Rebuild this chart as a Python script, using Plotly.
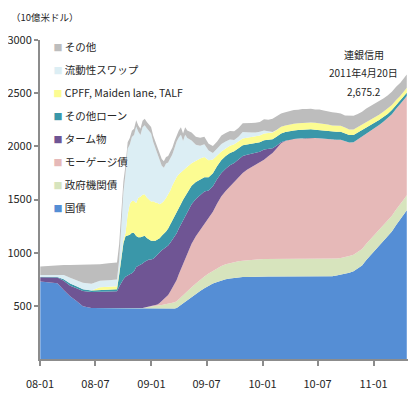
import plotly.graph_objects as go

dates = [
    "2008-01-02", "2008-01-30", "2008-02-27", "2008-03-19", "2008-04-09", "2008-04-30", "2008-05-21",
    "2008-06-18", "2008-07-16", "2008-08-13", "2008-09-10", "2008-09-17", "2008-09-24", "2008-10-01",
    "2008-10-08", "2008-10-15", "2008-10-22", "2008-10-29", "2008-11-05", "2008-11-12", "2008-11-19",
    "2008-11-26", "2008-12-03", "2008-12-10", "2008-12-17", "2008-12-24", "2008-12-31",
    "2009-01-07", "2009-01-14", "2009-01-21", "2009-01-28", "2009-02-04", "2009-02-11", "2009-02-18",
    "2009-02-25", "2009-03-04", "2009-03-11", "2009-03-18", "2009-03-25", "2009-04-01", "2009-04-08",
    "2009-04-15", "2009-04-22", "2009-04-29", "2009-05-13", "2009-05-27", "2009-06-10", "2009-06-24",
    "2009-07-08", "2009-07-22", "2009-08-05", "2009-08-19", "2009-09-02", "2009-09-16", "2009-09-30",
    "2009-10-14", "2009-10-28", "2009-11-11", "2009-11-25", "2009-12-09", "2009-12-23",
    "2010-01-06", "2010-01-20", "2010-02-03", "2010-02-17", "2010-03-03", "2010-03-17", "2010-03-31",
    "2010-04-14", "2010-04-28", "2010-05-12", "2010-05-26", "2010-06-09", "2010-06-23", "2010-07-07",
    "2010-07-21", "2010-08-04", "2010-08-18", "2010-09-01", "2010-09-15", "2010-09-29", "2010-10-13",
    "2010-10-27", "2010-11-10", "2010-11-24", "2010-12-08", "2010-12-22",
    "2011-01-05", "2011-01-19", "2011-02-02", "2011-02-16", "2011-03-02", "2011-03-16", "2011-03-30",
    "2011-04-13", "2011-04-20",
]

# 国債
treasuries = [
    728, 722, 712, 650, 590, 545, 495, 480, 479, 479, 479, 479, 479, 479, 479, 478, 478, 477, 476, 476,
    476, 476, 476, 476, 476, 476, 476,
    476, 476, 476, 476, 476, 476, 476, 476, 476, 476, 476, 480, 495, 510, 525, 540, 555, 580, 610, 640,
    665, 690, 710, 725, 740, 750, 757, 763, 767, 770, 772, 774, 775, 776,
    776, 776, 776, 776, 776, 776, 776, 776, 776, 776, 776, 776, 776, 776, 776, 776, 778, 785, 792, 800,
    812, 825, 850, 880, 930, 975,
    1015, 1060, 1105, 1150, 1200, 1260, 1310, 1370, 1400,
]
# 政府機関債
agency = [
    0, 0, 0, 0, 0, 0, 0, 0, 0, 0, 0, 0, 0, 0, 0, 0, 0, 0, 0, 0, 0, 0, 3, 8, 12, 15, 20,
    22, 25, 27, 30, 32, 35, 38, 42, 48, 52, 58, 62, 67, 72, 77, 82, 88, 95, 100, 105, 110, 115, 120,
    128, 135, 140, 145, 150, 153, 155, 158, 160, 162, 163,
    164, 165, 166, 167, 168, 168, 168, 167, 167, 166, 166, 165, 165, 164, 163, 162, 161, 160, 159, 158,
    157, 156, 155, 154, 153, 152,
    151, 150, 149, 148, 147, 145, 143, 141, 140,
]
# モーゲージ債
mbs = [
    0, 0, 0, 0, 0, 0, 0, 0, 0, 0, 0, 0, 0, 0, 0, 0, 0, 0, 0, 0, 0, 0, 0, 0, 0, 0, 0,
    0, 5, 10, 20, 35, 50, 65, 85, 110, 140, 170, 200, 235, 265, 295, 325, 350, 410, 445, 470, 490,
    520, 555, 610, 655, 690, 720, 745, 790, 825, 850, 870, 890, 910,
    935, 965, 995, 1040, 1085, 1105, 1120, 1127, 1131, 1135, 1138, 1140, 1138, 1135, 1132, 1128, 1122,
    1118, 1112, 1092, 1068, 1058, 1060, 1055, 1040, 1022,
    1005, 990, 978, 965, 955, 948, 942, 936, 934,
]
# ターム物
term = [
    40, 45, 55, 85, 100, 120, 145, 150, 152, 155, 158, 200, 240, 270, 295, 310, 320, 330, 350, 390,
    400, 410, 420, 430, 440, 445, 440,
    445, 455, 470, 480, 480, 475, 470, 465, 460, 455, 450, 440, 430, 420, 410, 400, 390, 370, 350, 330,
    310, 260, 240, 230, 220, 210, 200, 185, 170, 160, 140, 125, 110, 100,
    95, 70, 45, 25, 10, 3, 0, 0, 0, 0, 0, 0, 0, 0, 0, 0, 0, 0, 0, 0, 0, 0, 0, 0, 0, 0,
    0, 0, 0, 0, 0, 0, 0, 0, 0,
]
# その他ローン
other_loans = [
    3, 3, 5, 15, 20, 18, 15, 15, 15, 15, 18, 110, 230, 340, 380, 370, 370, 380, 360, 290, 270, 260,
    255, 245, 210, 185, 175,
    170, 150, 140, 130, 135, 140, 150, 160, 170, 180, 185, 190, 190, 190, 190, 185, 185, 175, 160, 145,
    135, 125, 122, 122, 122, 120, 115, 110, 105, 100, 98, 95, 92, 90,
    88, 86, 85, 84, 82, 82, 80, 80, 80, 80, 79, 79, 78, 78, 78, 77, 76, 75, 74, 72, 70, 68, 65, 62, 58, 55,
    52, 48, 45, 42, 40, 36, 33, 31, 30,
]
# CPFF, Maiden lane, TALF
cpff = [
    0, 0, 0, 0, 0, 0, 0, 0, 29, 30, 30, 30, 30, 30, 30, 200, 290, 300, 300, 310, 370, 380, 390, 390,
    380, 375, 370,
    370, 360, 345, 320, 310, 310, 315, 315, 320, 330, 335, 340, 320, 300, 280, 260, 240, 210, 200, 195,
    190, 160, 130, 100, 80, 70, 68, 66, 65, 64, 63, 62, 62, 62,
    62, 62, 62, 62, 62, 62, 62, 62, 62, 63, 63, 64, 64, 64, 63, 62, 60, 58, 56, 54, 52, 51, 50, 50, 49, 49,
    48, 48, 48, 48, 47, 47, 47, 47, 46,
]
# 流動性スワップ
swaps = [
    20, 22, 24, 40, 55, 60, 62, 62, 62, 62, 62, 110, 280, 450, 560, 620, 560, 600, 620, 720, 620, 580,
    636, 650, 652, 654, 640,
    557, 509, 462, 404, 350, 312, 324, 305, 302, 293, 311, 333, 345, 353, 273, 316, 270, 215, 150, 120,
    120, 90, 60, 60, 70, 65, 60, 40, 40, 60, 55, 45, 40, 35,
    30, 15, 5, 2, 0, 0, 0, 0, 0, 1, 1, 1, 1, 1, 0, 0, 0, 0, 0, 0, 0, 0, 0, 0, 0, 0,
    0, 0, 0, 0, 0, 0, 0, 0, 0,
]
# その他
other = [
    80, 85, 88, 95, 118, 142, 165, 180, 155, 160, 160, 150, 130, 100, 80, 60, 60, 60, 60, 60, 60, 60,
    60, 60, 60, 60, 60,
    60, 60, 60, 60, 62, 62, 62, 62, 64, 64, 65, 65, 68, 70, 70, 72, 72, 75, 75, 75, 70, 65, 65, 70, 80,
    80, 80, 82, 82, 84, 86, 88, 90, 92,
    105, 110, 125, 125, 125, 125, 128, 130, 128, 130, 127, 128, 124, 128, 125, 122, 123, 120, 115, 115,
    130, 130, 125, 125, 125, 125,
    125, 125, 125, 125, 124, 124, 124, 124, 125.2,
]

series_names = ["国債", "政府機関債", "モーゲージ債", "ターム物", "その他ローン",
                "CPFF, Maiden lane, TALF", "流動性スワップ", "その他"]
series_values = [treasuries, agency, mbs, term, other_loans, cpff, swaps, other]
series_colors = ["#558ED5", "#D7E4BD", "#E6B9B8", "#6F5594", "#3A97A9",
                 "#FCFC92", "#DCEEF4", "#BDBDBD"]

x_tick_dates = ["2008-01-01", "2008-07-01", "2009-01-01", "2009-07-01",
                "2010-01-01", "2010-07-01", "2011-01-01"]
x_tick_labels = ["08-01", "08-07", "09-01", "09-07", "10-01", "10-07", "11-01"]
y_tick_vals = [500, 1000, 1500, 2000, 2500, 3000]

FONT = "Noto Sans CJK JP"
AXIS = "#8C8C8C"

fig = go.Figure()
for name, vals, col in zip(series_names, series_values, series_colors):
    fig.add_trace(go.Scatter(
        x=dates, y=vals, stackgroup="one", mode="lines",
        line=dict(width=0, color=col), fillcolor=col,
        name=name, showlegend=False, hoverinfo="skip",
    ))

# legend-only entries with small coloured squares (top entry = top layer)
for name, col in zip(series_names[::-1], series_colors[::-1]):
    fig.add_trace(go.Scatter(
        x=[None], y=[None], mode="markers",
        marker=dict(color="rgba(0,0,0,0)", size=1),
        name=f'<span style="color:{col};font-size:9px">■</span> {name}',
        legendgroup=name, showlegend=True,
    ))

# page body has an 8px default margin, so the figure is 8px smaller
fig.update_layout(
    width=408, height=387, autosize=False,
    margin=dict(l=32, r=8, t=32, b=36, autoexpand=False),
    paper_bgcolor="white", plot_bgcolor="white",
    font=dict(family=FONT, size=11, color="#262626"),
    showlegend=True,
    legend=dict(
        x=-0.072, xanchor="left", y=1.025, yanchor="top",
        bgcolor="rgba(0,0,0,0)", borderwidth=0,
        traceorder="grouped", tracegroupgap=4,
        font=dict(family=FONT, size=10.5, color="#262626"),
    ),
    xaxis=dict(
        type="date", range=["2008-01-01", "2011-04-24"],
        tickmode="array", tickvals=x_tick_dates, ticktext=x_tick_labels,
        showline=True, linecolor=AXIS, linewidth=2,
        ticks="outside", ticklen=5, tickcolor=AXIS, tickwidth=1.5,
        ticklabelstandoff=9,
        showgrid=False, zeroline=False,
        tickfont=dict(family=FONT, size=11, color="#262626"),
    ),
    yaxis=dict(
        range=[0, 3000], tickmode="array", tickvals=y_tick_vals,
        showline=True, linecolor=AXIS, linewidth=2,
        ticks="outside", ticklen=4, tickcolor=AXIS, tickwidth=1.5,
        showgrid=False, zeroline=False,
        tickfont=dict(family=FONT, size=11, color="#262626"),
    ),
    annotations=[
        dict(text="（10億米ドル）", xref="paper", yref="paper", x=-0.085, y=1.072,
             xanchor="left", yanchor="middle", showarrow=False,
             font=dict(family=FONT, size=9.5, color="#262626")),
        dict(text="連銀信用", xref="paper", yref="paper", x=0.88, y=0.953,
             xanchor="center", yanchor="middle", showarrow=False,
             font=dict(family=FONT, size=10, color="#262626")),
        dict(text="2011年4月20日", xref="paper", yref="paper", x=0.88, y=0.8966,
             xanchor="center", yanchor="middle", showarrow=False,
             font=dict(family=FONT, size=10, color="#262626")),
        dict(text="2,675.2", xref="paper", yref="paper", x=0.88, y=0.8401,
             xanchor="center", yanchor="middle", showarrow=False,
             font=dict(family=FONT, size=10, color="#262626")),
    ],
)

fig.write_html("out.html")
